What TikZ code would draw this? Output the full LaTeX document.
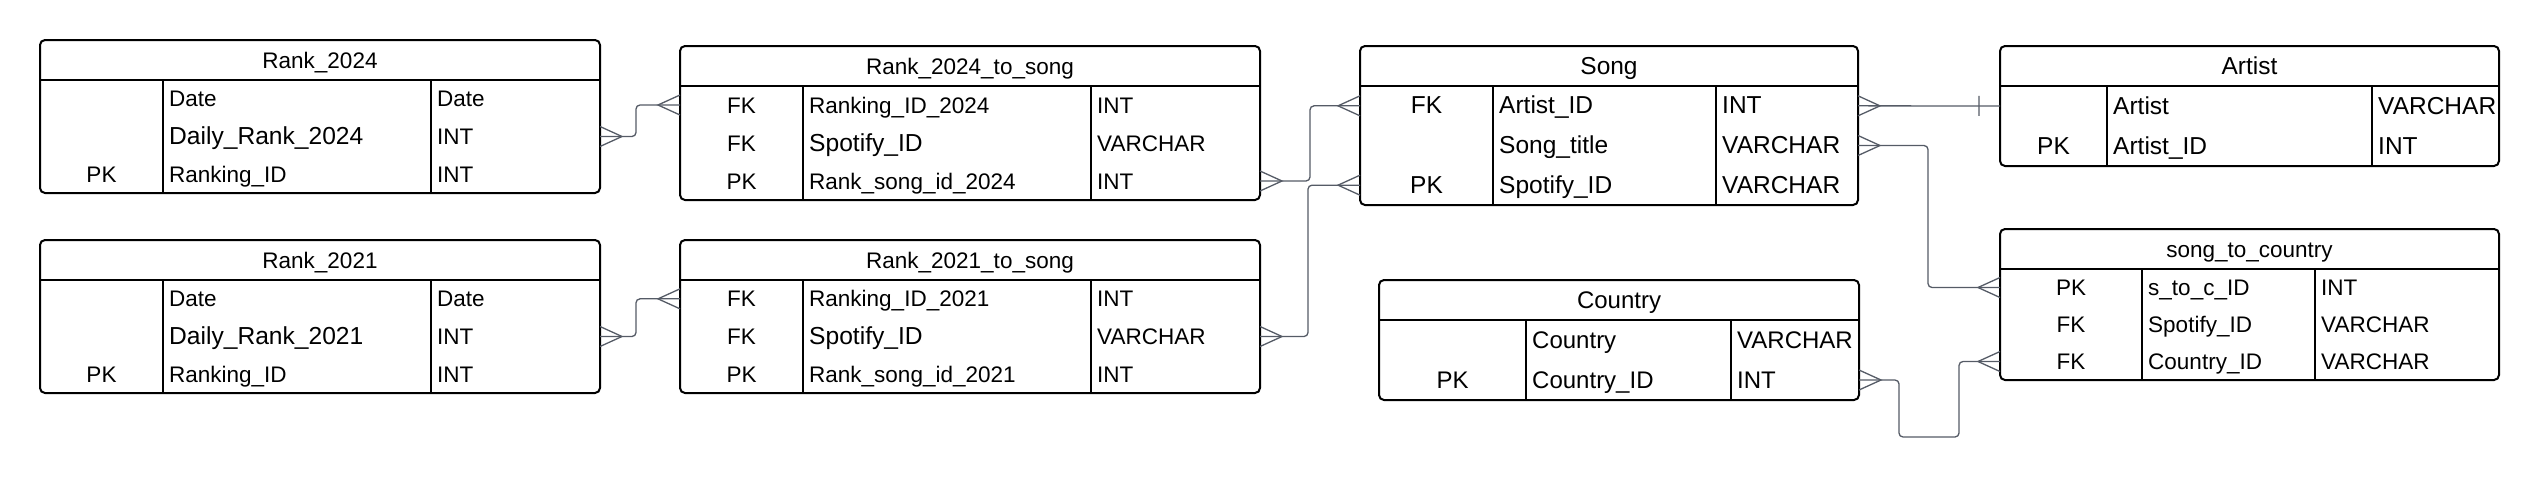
\documentclass[tikz,border=0pt]{standalone}
\usepackage{fontspec}
\setmainfont{Liberation Sans}
\usetikzlibrary{arrows.meta}
\definecolor{linkgray}{HTML}{555B66}

\newcommand{\fs}[1]{\fontsize{#1}{#1}\selectfont}
\newcommand{\bigcell}[1]{{\fs{24.6}#1}}

% crow's foot (many) and bar (one) ends
\pgfdeclarearrow{
  name = Crow,
  parameters = {\the\pgfarrowlength,\the\pgfarrowwidth},
  setup code = {
    \pgfarrowssettipend{0pt}
    \pgfarrowssetlineend{0pt}
    \pgfarrowssetbackend{-\pgfarrowlength}
    \pgfarrowssetvisualbackend{-\pgfarrowlength}
    \pgfarrowshullpoint{0pt}{.5\pgfarrowwidth}
    \pgfarrowshullpoint{0pt}{-.5\pgfarrowwidth}
    \pgfarrowshullpoint{-\pgfarrowlength}{0pt}
    \pgfarrowssavethe\pgfarrowlength
    \pgfarrowssavethe\pgfarrowwidth
  },
  drawing code = {
    \pgfsetdash{}{0pt}
    \pgfpathmoveto{\pgfqpoint{0pt}{.5\pgfarrowwidth}}
    \pgfpathlineto{\pgfqpoint{-\pgfarrowlength}{0pt}}
    \pgfpathlineto{\pgfqpoint{0pt}{-.5\pgfarrowwidth}}
    \pgfusepathqstroke
  },
  defaults = {length=22pt, width=20pt}
}
\pgfdeclarearrow{
  name = OneBar,
  parameters = {\the\pgfarrowlength,\the\pgfarrowwidth},
  setup code = {
    \pgfarrowssettipend{0pt}
    \pgfarrowssetlineend{0pt}
    \pgfarrowssetbackend{-\pgfarrowlength}
    \pgfarrowssetvisualbackend{-\pgfarrowlength}
    \pgfarrowshullpoint{-\pgfarrowlength}{.5\pgfarrowwidth}
    \pgfarrowshullpoint{-\pgfarrowlength}{-.5\pgfarrowwidth}
    \pgfarrowshullpoint{0pt}{0pt}
    \pgfarrowssavethe\pgfarrowlength
    \pgfarrowssavethe\pgfarrowwidth
  },
  drawing code = {
    \pgfsetdash{}{0pt}
    \pgfpathmoveto{\pgfqpoint{-\pgfarrowlength}{.5\pgfarrowwidth}}
    \pgfpathlineto{\pgfqpoint{-\pgfarrowlength}{-.5\pgfarrowwidth}}
    \pgfusepathqstroke
  },
  defaults = {length=21pt, width=20pt}
}

% table: name, x, y, width, key col, field col, height, title, rows
\newcommand{\ertable}[9]{%
  \foreach \rw [count=\cnt] in {#9} {\xdef\nrows{\cnt}}
  \node[tbl, minimum width=#4pt, minimum height=#7pt, anchor=north west] (#1) at (#2,#3) {};
  \draw[rule] ([yshift=-40pt]#1.north west) -- ([yshift=-40pt]#1.north east);
  \draw[rule] ([xshift=#5pt, yshift=-40pt]#1.north west) -- ([xshift=#5pt]#1.south west);
  \draw[rule] ([xshift={#5pt+#6pt}, yshift=-40pt]#1.north west) -- ([xshift={#5pt+#6pt}]#1.south west);
  \node[cell, anchor=base] (#1-head) at ([yshift=-28pt]#1.north) {#8};
  \foreach \kk/\nm/\ty [count=\i] in {#9} {
    \coordinate (#1-\i) at (#2, {#3+40+(\i-0.5)*(#7-40)/\nrows});
    \node[cell, anchor=base] (#1-k\i) at ([xshift={#5pt/2}, yshift=-8pt]#1-\i) {\kk};
    \node[cell, anchor=base west] (#1-n\i) at ([xshift={#5pt+6pt}, yshift=-8pt]#1-\i) {\nm};
    \node[cell, anchor=base west] (#1-t\i) at ([xshift={#5pt+#6pt+6pt}, yshift=-8pt]#1-\i) {\ty};
  }
}

\begin{document}
\begin{tikzpicture}[
    x=1pt, y=-1pt,
    every node/.style={font=\fs{22.5}},
    tbl/.style={draw, line width=2pt, rounded corners=5pt, inner sep=0pt, outer sep=0pt},
    rule/.style={line width=2pt},
    cell/.style={inner sep=0pt},
    link/.style={Crow-Crow, draw=linkgray, line width=1.3pt, rounded corners=4pt},
]
\useasboundingbox (0,0) rectangle (2540,480);

% Rankings
\ertable{r24}{40}{40}{560}{123}{268}{153}{Rank\_2024}{{}/Date/Date, {}/\bigcell{Daily\_Rank\_2024}/INT, PK/Ranking\_ID/INT}
\ertable{r21}{40}{240}{560}{123}{268}{153}{Rank\_2021}{{}/Date/Date, {}/\bigcell{Daily\_Rank\_2021}/INT, PK/Ranking\_ID/INT}

% Link tables
\ertable{r24s}{680}{46}{580}{123}{288}{154}{Rank\_2024\_to\_song}{FK/Ranking\_ID\_2024/INT, FK/\bigcell{Spotify\_ID}/VARCHAR, PK/Rank\_song\_id\_2024/INT}
\ertable{r21s}{680}{240}{580}{123}{288}{153}{Rank\_2021\_to\_song}{FK/Ranking\_ID\_2021/INT, FK/\bigcell{Spotify\_ID}/VARCHAR, PK/Rank\_song\_id\_2021/INT}

% Song, Artist, Country
\begin{scope}[every node/.style={font=\fs{24.5}}]
\ertable{song}{1360}{46}{498}{133}{223}{159}{Song}{FK/Artist\_ID/INT, {}/Song\_title/VARCHAR, PK/Spotify\_ID/VARCHAR}
\ertable{artist}{2000}{46}{499}{107}{265}{120}{Artist}{{}/Artist/VARCHAR, PK/Artist\_ID/INT}
\end{scope}
\begin{scope}[every node/.style={font=\fs{24}}]
\ertable{country}{1379}{280}{480}{147}{205}{120}{Country}{{}/Country/VARCHAR, PK/Country\_ID/INT}
\end{scope}
\ertable{s2c}{2000}{229}{499}{142}{173}{151}{song\_to\_country}{PK/s\_to\_c\_ID/INT, FK/Spotify\_ID/VARCHAR, FK/Country\_ID/VARCHAR}

% Relations
\draw[link] (r24.east |- r24-2) -- ++(36,0) |- (r24s.west |- r24s-1);
\draw[link] (r21.east |- r21-2) -- ++(36,0) |- (r21s.west |- r21s-1);
\draw[link] (r24s.east |- r24s-3) -- ++(50,0) |- (song.west |- song-1);
\draw[link] (r21s.east |- r21s-2) -- ++(48,0) |- (song.west |- song-3);
\draw[link, Crow-OneBar] (song.east |- song-1) -- (artist.west |- artist-1);
\draw[link] (song.east |- song-2) -- ++(70,0) |- (s2c.west |- s2c-1);
\draw[link] (country.east |- country-2) -- ++(40,0) -- ++(0,57) -- ++(60,0) |- (s2c.west |- s2c-3);

\end{tikzpicture}
\end{document}
